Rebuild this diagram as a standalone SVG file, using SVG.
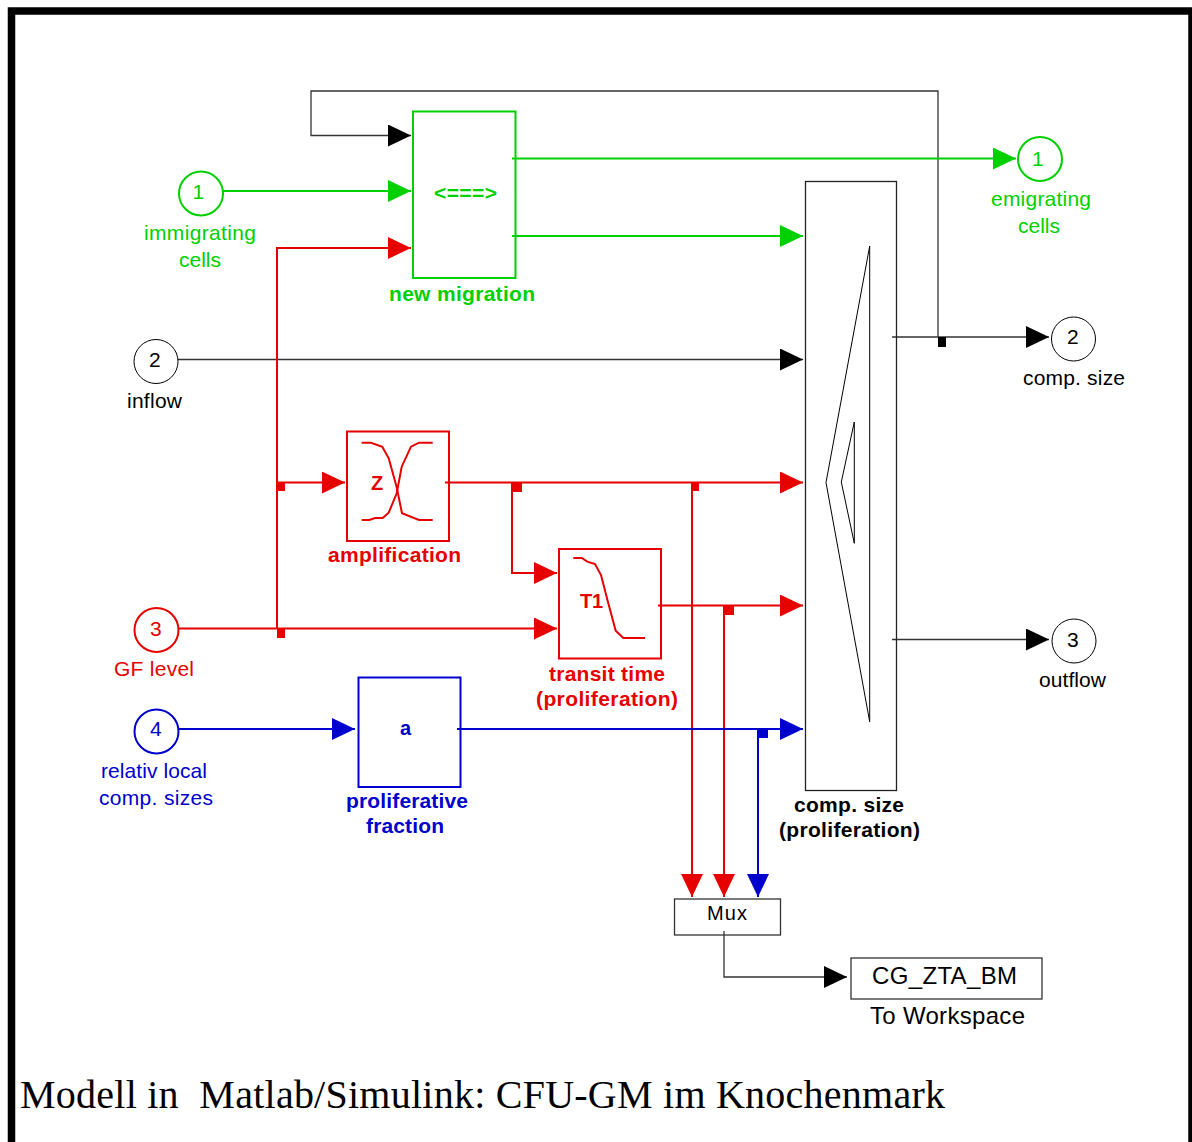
<svg xmlns="http://www.w3.org/2000/svg" width="1192" height="1142" viewBox="0 0 1192 1142">
<style>
text{font-family:"Liberation Sans",Arial,sans-serif;font-size:21px;white-space:pre}
.b{font-weight:bold}
.k{fill:#000}.r{fill:#e60000}.g{fill:#00d000}.u{fill:#0000cc}
.sk,.sr,.sg,.su{fill:none}
.sk{stroke:#000;stroke-width:1}
.sr{stroke:#e60000;stroke-width:2}
.sg{stroke:#00d000;stroke-width:2}
.su{stroke:#0000cc;stroke-width:2}
#connectors .sk{stroke:#333;stroke-width:1.3}
</style>
<defs>
<marker id="ak" markerUnits="userSpaceOnUse" markerWidth="23" markerHeight="22" refX="23" refY="11" orient="auto"><path d="M0 0L23 11L0 22Z" fill="#000"/></marker>
<marker id="ar" markerUnits="userSpaceOnUse" markerWidth="23" markerHeight="22" refX="23" refY="11" orient="auto"><path d="M0 0L23 11L0 22Z" fill="#e60000"/></marker>
<marker id="ag" markerUnits="userSpaceOnUse" markerWidth="23" markerHeight="22" refX="23" refY="11" orient="auto"><path d="M0 0L23 11L0 22Z" fill="#00d000"/></marker>
<marker id="au" markerUnits="userSpaceOnUse" markerWidth="23" markerHeight="22" refX="23" refY="11" orient="auto"><path d="M0 0L23 11L0 22Z" fill="#0000cc"/></marker>
</defs>
<rect width="1192" height="1142" fill="#fff"/>
<path id="frame" d="M11.500 1142V11H1192V1142" fill="none" stroke="#000" stroke-width="7.500"/>

<g id="connectors">
<path class="sk" d="M938 337V91H311V135.500H411" marker-end="url(#ak)"/>
<path class="sk" d="M178 359.500H803" marker-end="url(#ak)"/>
<path class="sk" d="M892 337H1049" marker-end="url(#ak)"/>
<path class="sk" d="M892 639.500H1049" marker-end="url(#ak)"/>
<path class="sk" d="M724 931V977H847" marker-end="url(#ak)"/>
<path class="sg" d="M222 191H411" marker-end="url(#ag)"/>
<path class="sg" d="M512 158.500H1016" marker-end="url(#ag)"/>
<path class="sg" d="M512 236H803" marker-end="url(#ag)"/>
<path class="sr" d="M277 628.500V248H411" marker-end="url(#ar)"/>
<path class="sr" d="M178 628.500H557" marker-end="url(#ar)"/>
<path class="sr" d="M277 482.500H345" marker-end="url(#ar)"/>
<path class="sr" d="M445 482.500H803" marker-end="url(#ar)"/>
<path class="sr" d="M512 482.500V573H557" marker-end="url(#ar)"/>
<path class="sr" d="M658 605.500H803" marker-end="url(#ar)"/>
<path class="sr" d="M692 482.500V897" marker-end="url(#ar)"/>
<path class="sr" d="M724 605.500V897" marker-end="url(#ar)"/>
<path class="su" d="M178 729H355" marker-end="url(#au)"/>
<path class="su" d="M457 729H803" marker-end="url(#au)"/>
<path class="su" d="M758 729V897" marker-end="url(#au)"/>
<rect class="k" x="938" y="337" width="8" height="10"/>
<rect class="r" x="277" y="628" width="8" height="10"/>
<rect class="r" x="277" y="482" width="8" height="9"/>
<rect class="r" x="512" y="482" width="10" height="10"/>
<rect class="r" x="691" y="482" width="8" height="9"/>
<rect class="r" x="724" y="605" width="10" height="10"/>
<rect class="u" x="758" y="729" width="10" height="9"/>
</g>

<g id="in1">
<circle class="sg" cx="201" cy="193.500" r="22"/>
<text class="g" x="192.500" y="198.500">1</text>
<text class="g" x="144" y="240" textLength="112">immigrating</text>
<text class="g" x="179" y="267" textLength="42">cells</text>
</g>
<g id="in2">
<circle class="sk" cx="156" cy="361.500" r="22"/>
<text class="k" x="149" y="367">2</text>
<text class="k" x="127" y="408" textLength="55">inflow</text>
</g>
<g id="in3">
<circle class="sr" cx="156.500" cy="630" r="22"/>
<text class="r" x="150" y="636">3</text>
<text class="r" x="114" y="676" textLength="80">GF level</text>
</g>
<g id="in4">
<circle class="su" cx="156.500" cy="731.500" r="22"/>
<text class="u" x="150" y="736">4</text>
<text class="u" x="101" y="778" textLength="106">relativ local</text>
<text class="u" x="99" y="804.500" textLength="114">comp. sizes</text>
</g>
<g id="migration">
<rect class="sg" x="413" y="111.500" width="102.500" height="166.500"/>
<text class="g b" x="434" y="200" textLength="63">&lt;===&gt;</text>
<text class="g b" x="389" y="301" textLength="146">new migration</text>
</g>
<g id="amplification">
<rect class="sr" x="347" y="431.500" width="102" height="109.500"/>
<polyline class="sr" points="361.700,442.700 371,442.700 382.300,446.700 388.700,458.300 396.700,487.300 402,513.300 419,520 432.700,520"/>
<polyline class="sr" points="432.700,442.700 419,442.700 411,446.700 401.700,466.700 396.700,493.300 388.700,512.700 382.700,518 375,518 369.300,520 361.700,520"/>
<text class="r b" x="371" y="490" style="font-size:20px">Z</text>
<text class="r b" x="328" y="562" textLength="133">amplification</text>
</g>
<g id="transit">
<rect class="sr" x="559" y="549" width="102" height="109.500"/>
<polyline class="sr" points="573.300,558 581.700,558 587.300,561.700 595,564 601,575 608.300,603.300 615.700,630.700 623.300,638 645,638"/>
<text class="r b" x="580" y="607.500" style="font-size:20px" textLength="23">T1</text>
<text class="r b" x="549" y="681" textLength="116">transit time</text>
<text class="r b" x="536" y="706" textLength="142">(proliferation)</text>
</g>
<g id="fraction">
<rect class="su" x="358.500" y="677.500" width="102" height="109.500"/>
<text class="u b" x="400" y="735" style="font-size:20px">a</text>
<text class="u b" x="346" y="808" textLength="122">proliferative</text>
<text class="u b" x="366" y="833" textLength="78">fraction</text>
</g>
<g id="compsize">
<rect class="sk" x="805.500" y="181.500" width="91" height="609" style="stroke:#222;stroke-width:1.300"/>
<polygon class="sk" points="869.700,246 826,482.500 869.700,721.700"/>
<polygon class="sk" points="854.300,422 841.300,482 854.300,543.300"/>
<text class="k b" x="794" y="812" textLength="110">comp. size</text>
<text class="k b" x="779" y="837" textLength="141">(proliferation)</text>
</g>
<g id="out1">
<circle class="sg" cx="1040" cy="159" r="22"/>
<text class="g" x="1032" y="166">1</text>
<text class="g" x="991" y="206" textLength="100">emigrating</text>
<text class="g" x="1018" y="232.500" textLength="42">cells</text>
</g>
<g id="out2">
<circle class="sk" cx="1073.500" cy="339" r="22"/>
<text class="k" x="1067" y="343.500">2</text>
<text class="k" x="1023" y="385" textLength="102">comp. size</text>
</g>
<g id="out3">
<circle class="sk" cx="1074" cy="641" r="22"/>
<text class="k" x="1067" y="647">3</text>
<text class="k" x="1039" y="687" textLength="67">outflow</text>
</g>
<g id="mux">
<rect class="sk" x="674.500" y="899" width="106" height="36" style="stroke:#333;stroke-width:1.300"/>
<text class="k" x="707" y="920" style="font-size:20px" textLength="40">Mux</text>
</g>
<g id="workspace">
<rect class="sk" x="851" y="958" width="191" height="41" style="stroke:#333;stroke-width:1.300"/>
<text class="k" x="872" y="983.500" style="font-size:24px" textLength="145">CG_ZTA_BM</text>
<text class="k" x="870" y="1023.500" style="font-size:24px" textLength="155">To Workspace</text>
</g>
<text id="caption" class="k" x="20" y="1108" style="font-family:'Liberation Serif','Times New Roman',serif;font-size:40px" textLength="925">Modell in  Matlab/Simulink: CFU-GM im Knochenmark</text>
</svg>
